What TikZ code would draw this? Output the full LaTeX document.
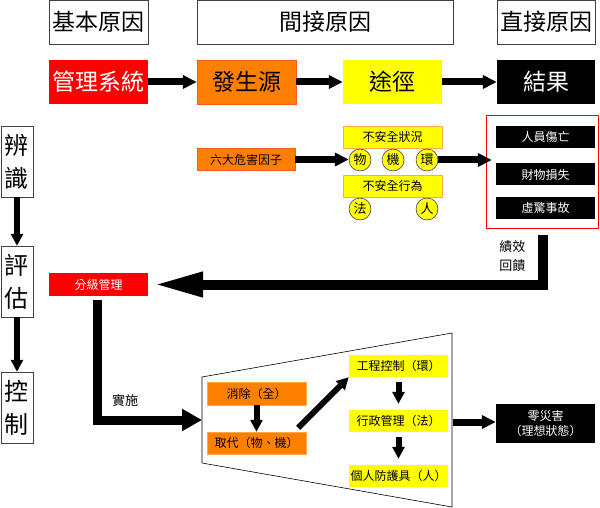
\documentclass[tikz,border=0pt]{standalone}
\usepackage{fontspec}
\setmainfont{Noto Sans CJK TC}
\usepackage{xcolor}
\usepackage{tikz}
\usetikzlibrary{arrows.meta,calc}

\definecolor{hzred}{RGB}{255,0,0}
\definecolor{hzorange}{RGB}{255,128,0}
\definecolor{hzyellow}{RGB}{255,255,0}
\definecolor{hzedge}{RGB}{255,90,30}
\definecolor{hzpale}{RGB}{255,170,70}

\begin{document}
\begin{tikzpicture}[x=1pt, y=-1pt,
  title/.style={draw=black!75, fill=white, inner sep=0pt, minimum height=44pt, font=\fontsize{23}{23}\selectfont},
  tag/.style={inner sep=0pt, minimum width=99pt, minimum height=22pt, font=\fontsize{12}{14}\selectfont},
  ring/.style={circle, draw=blue!40!black, fill=hzyellow, inner sep=0pt, minimum size=22pt, font=\fontsize{13}{13}\selectfont},
  col/.style={draw=black!75, fill=white, inner sep=0pt, minimum width=32pt, minimum height=71pt, align=center, font=\fontsize{24}{33}\selectfont},
  fat/.style={line width=7pt, -{Triangle[length=14pt, width=13pt]}},
  slim/.style={line width=6pt, -{Triangle[length=12pt, width=12pt]}},
  ]
  \fill[white] (0,0) rectangle (600,508);
  \useasboundingbox (0,0) rectangle (600,508);

  % top rows
  \node[title, minimum width=99pt] (basic) at (98.5,22) {基本原因};
  \node[title, minimum width=256pt] (indirect) at (325,22) {間接原因};
  \node[title, minimum width=98pt] (direct) at (546,22) {直接原因};
  \node[title, draw=none, fill=hzred, text=white, minimum width=99pt] (mgmt) at (98.5,82) {管理系統};
  \node[title, draw=hzedge, fill=hzorange, minimum width=99pt] (source) at (246.5,82) {發生源};
  \node[title, draw=none, fill=hzyellow, minimum width=99pt] (route) at (392.5,82) {途徑};
  \node[title, draw=none, fill=black, text=white, minimum width=98pt] (result) at (546,82) {結果};
  \draw[fat] (mgmt) -- (source);
  \draw[fat] (source) -- (route);
  \draw[fat] (route) -- (result);

  % hazards
  \node[tag, draw=hzedge, fill=hzorange, minimum width=98pt] (hazards) at (246,159.5) {六大危害因子};
  \node[tag, draw=hzpale, fill=hzyellow] (cond) at (392.5,137) {不安全狀況};
  \node[ring] (thing) at (360,160) {物};
  \node[ring] (machine) at (393,160) {機};
  \node[ring] (env) at (427,160) {環};
  \node[tag, draw=hzpale, fill=hzyellow] (act) at (392.5,186) {不安全行為};
  \node[ring] (law) at (360,209) {法};
  \node[ring] (man) at (427,209) {人};
  \node[draw=hzred, inner sep=0pt, minimum width=112pt, minimum height=113pt] (effects) at (542,171.5) {};
  \node[tag, fill=black, text=white] (injury) at (545.5,137) {人員傷亡};
  \node[tag, fill=black, text=white] (loss) at (545.5,174.5) {財物損失};
  \node[tag, fill=black, text=white] (nearmiss) at (545.5,208) {虛驚事故};
  \draw[fat] (hazards) -- (hazards -| thing.west);
  \draw[fat, shorten >=-6pt] (env) -- (env -| effects.west);

  % left column
  \node[col] (identify) at (17,161.5) {辨\\識};
  \node[col] (assess) at (17,281.5) {評\\估};
  \node[col] (control) at (17,407.5) {控\\制};
  \draw[slim] (identify) -- (assess);
  \draw[slim] (assess) -- (control);

  % feedback
  \node[tag, fill=hzred, text=white, minimum height=23pt] (grade) at (98.5,284.5) {分級管理};
  \draw[line width=10pt, -{Triangle[length=50pt, width=23pt]}, shorten <=7pt, shorten >=5pt]
    ([xshift=0.5pt]effects.south) |- (grade.east);
  \node[anchor=east, align=right, font=\fontsize{13}{19}\selectfont] (fbtext) at (529,256.5) {績效\\回饋};

  % controls
  \coordinate (tl) at (202,377);
  \coordinate (tr) at (452,333);
  \coordinate (br) at (452,507);
  \coordinate (bl) at (202,463);
  \draw[semithick] (tl) -- (tr) -- (br) -- (bl) -- cycle;
  \coordinate (trapin) at (202,420);
  \coordinate (trapout) at (453,422);
  \draw[line width=9pt, -{Triangle[length=20pt, width=21pt]}, shorten <=4pt]
    ([xshift=-1pt]grade.south) |- (trapin);
  \node[font=\fontsize{13}{13}\selectfont] (implement) at (125,401) {實施};

  \node[tag, draw=hzpale, fill=hzorange, minimum height=23pt] (eliminate) at (256.5,393.5) {消除（全）};
  \node[tag, draw=hzpale, fill=hzorange] (substitute) at (256.5,443) {取代（物、機）};
  \node[tag, fill=hzyellow] (engineering) at (398.5,366) {工程控制（環）};
  \node[tag, fill=hzyellow] (admin) at (398.5,421) {行政管理（法）};
  \node[tag, fill=hzyellow] (ppe) at (398.5,476) {個人防護具（人）};
  \node[tag, fill=black, text=white, minimum height=39pt, align=center, font=\fontsize{12}{15}\selectfont] (zero) at (545.5,423.5) {零災害\\（理想狀態）};
  \draw[slim] (eliminate) -- (substitute);
  \draw[slim] ([xshift=-8pt, yshift=4pt]substitute.north east) -- (engineering.south west);
  \draw[slim, shorten <=5pt, shorten >=6pt] (engineering) -- (admin);
  \draw[slim, shorten <=5pt, shorten >=6pt] (admin) -- (ppe);
  \draw[fat] (trapout) -- (trapout -| zero.west);
\end{tikzpicture}
\end{document}
